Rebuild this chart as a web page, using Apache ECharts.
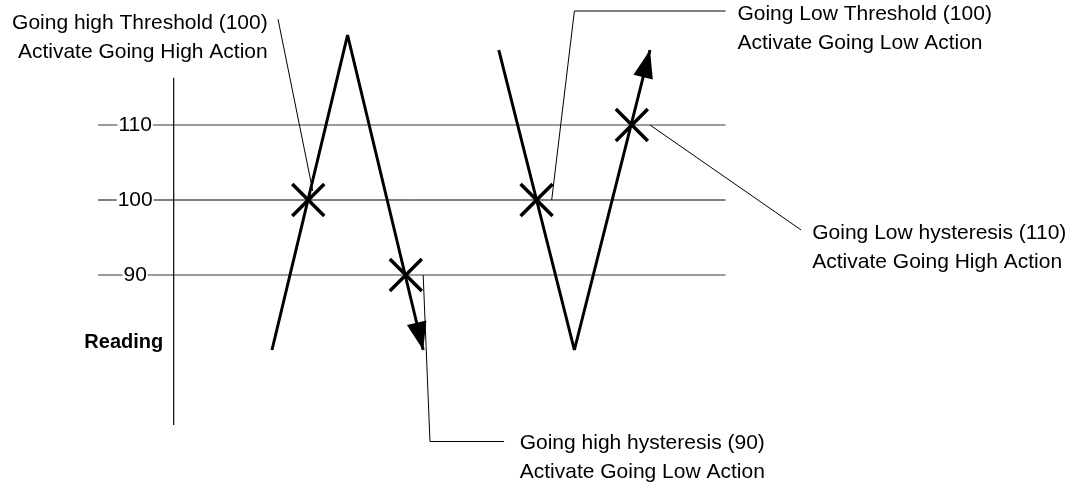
<!DOCTYPE html>
<html>
<head>
<meta charset="utf-8">
<title>Reading hysteresis</title>
<script src="https://cdn.jsdelivr.net/npm/echarts@6/dist/echarts.min.js"></script>
<style>
  html, body { margin: 0; padding: 0; background: #fff; }
  #chart { width: 1076px; height: 492px; }
</style>
</head>
<body>
<div id="chart"></div>
<script>
// reading levels (horizontal lines) and where they run
const levels = [110, 100, 90];
const levelFrom = -10;
const levelTo = 73;

// the reading trace, first going high then going low
const goingHigh = [[13, 80], [23, 122], [33, 80]];
const goingLow = [[43, 120], [53, 80], [63, 120]];

// where the trace crosses a threshold
const crossings = [[17.8, 100], [30.7, 90], [48, 100], [60.6, 110]];

// vertical "Reading" axis
const readingAxis = [[0, 70], [0, 116.3]];

// leader lines from the crossings to the notes
const leaderHighThreshold = [[13.8, 124.1], [18.4, 101.2]];
const leaderHighHysteresis = [[33, 90], [33.9, 67.8], [43.7, 67.8]];
const leaderLowThreshold = [[50, 100], [53, 125.2], [73, 125.2]];
const leaderLowHysteresis = [[63, 110], [83, 96]];

// notes: text, anchor, side
const noteText = [
  "Going high Threshold (100)\nActivate Going High Action",
  "Going Low Threshold (100)\nActivate Going Low Action",
  "Going Low hysteresis (110)\nActivate Going High Action",
  "Going high hysteresis (90)\nActivate Going Low Action"
];
const noteAt = [[12.5, 121.6], [74.5, 122.8], [84.4, 93.6], [45.7, 65.6]];
const noteSide = ["left", "right", "right", "right"];

const axisName = "Reading";
const axisNameAt = [-6.6, 81];
const tickLabelX = -5.1;

const font = "'Liberation Sans', Arial, sans-serif";

const chart = echarts.init(document.getElementById("chart"));

function lineSeries(data, color, width) {
  return {
    type: "line",
    data: data,
    showSymbol: false,
    symbol: "none",
    clip: false,
    silent: true,
    z: 2,
    lineStyle: { color: color, width: width }
  };
}

const series = [];

// level lines (100 is the darker one)
levels.forEach(v => {
  series.push(lineSeries([[levelFrom, v], [levelTo, v]], v === 100 ? "#000" : "#7a7a7a", v === 100 ? 1 : 1.4));
});

series.push(lineSeries(readingAxis, "#000", 1.2));

// leaders
[leaderHighThreshold, leaderHighHysteresis, leaderLowThreshold, leaderLowHysteresis].forEach(d => {
  series.push(lineSeries(d, "#000", 1));
});

// trace
series.push(Object.assign(lineSeries(goingHigh, "#000", 3), { z: 3 }));
series.push(Object.assign(lineSeries(goingLow, "#000", 3), { z: 3 }));

// arrow heads on the last segment of each trace
series.push({
  type: "custom",
  clip: false,
  silent: true,
  z: 4,
  data: [goingHigh, goingLow].map(d => {
    const a = d[d.length - 2], b = d[d.length - 1];
    return [a[0], a[1], b[0], b[1]];
  }),
  encode: { x: [0, 2], y: [1, 3] },
  renderItem(params, api) {
    const p1 = api.coord([api.value(0), api.value(1)]);
    const p2 = api.coord([api.value(2), api.value(3)]);
    const dx = p2[0] - p1[0], dy = p2[1] - p1[1];
    const len = Math.sqrt(dx * dx + dy * dy);
    const ux = dx / len, uy = dy / len;
    const L = 28, W = 10;
    const bx = p2[0] - ux * L, by = p2[1] - uy * L;
    return {
      type: "polygon",
      shape: { points: [p2, [bx - uy * W, by + ux * W], [bx + uy * W, by - ux * W]] },
      style: { fill: "#000" }
    };
  }
});

// crossing markers
series.push({
  type: "scatter",
  data: crossings,
  clip: false,
  silent: true,
  z: 5,
  symbol: "path://M0 0L10 10M10 0L0 10",
  symbolSize: 32,
  itemStyle: { color: "rgba(0,0,0,0)", borderColor: "#000", borderWidth: 3.5, opacity: 1 }
});

// tick labels on the level lines
series.push({
  type: "scatter",
  data: levels.map(v => [tickLabelX, v]),
  clip: false,
  silent: true,
  z: 10,
  symbolSize: 1,
  itemStyle: { color: "rgba(0,0,0,0)", opacity: 1 },
  label: {
    show: true,
    position: "inside",
    formatter: p => String(p.value[1]),
    color: "#000",
    fontSize: 21,
    fontFamily: font,
    backgroundColor: "#fff",
    padding: [0, 1]
  }
});

// notes and axis name
series.push({
  type: "scatter",
  clip: false,
  silent: true,
  z: 10,
  symbolSize: 1,
  itemStyle: { color: "rgba(0,0,0,0)", opacity: 1 },
  label: {
    show: true,
    formatter: "{b}",
    color: "#000",
    fontSize: 21,
    fontFamily: font,
    lineHeight: 29,
    distance: 0
  },
  data: noteText.map((t, i) => ({
    name: t,
    value: noteAt[i],
    label: { position: noteSide[i], align: noteSide[i] === "left" ? "right" : "left" }
  })).concat([{
    name: axisName,
    value: axisNameAt,
    label: { position: "inside", fontWeight: "bold", fontSize: 20 }
  }])
});

const option = {
  backgroundColor: "#fff",
  animation: false,
  grid: { left: 98.1, right: 32.9, top: 12.5, bottom: 29.5 },
  xAxis: { type: "value", min: -10, max: 115, show: false },
  yAxis: { type: "value", min: 65, max: 125, show: false },
  series: series
};

chart.setOption(option);
</script>
</body>
</html>
